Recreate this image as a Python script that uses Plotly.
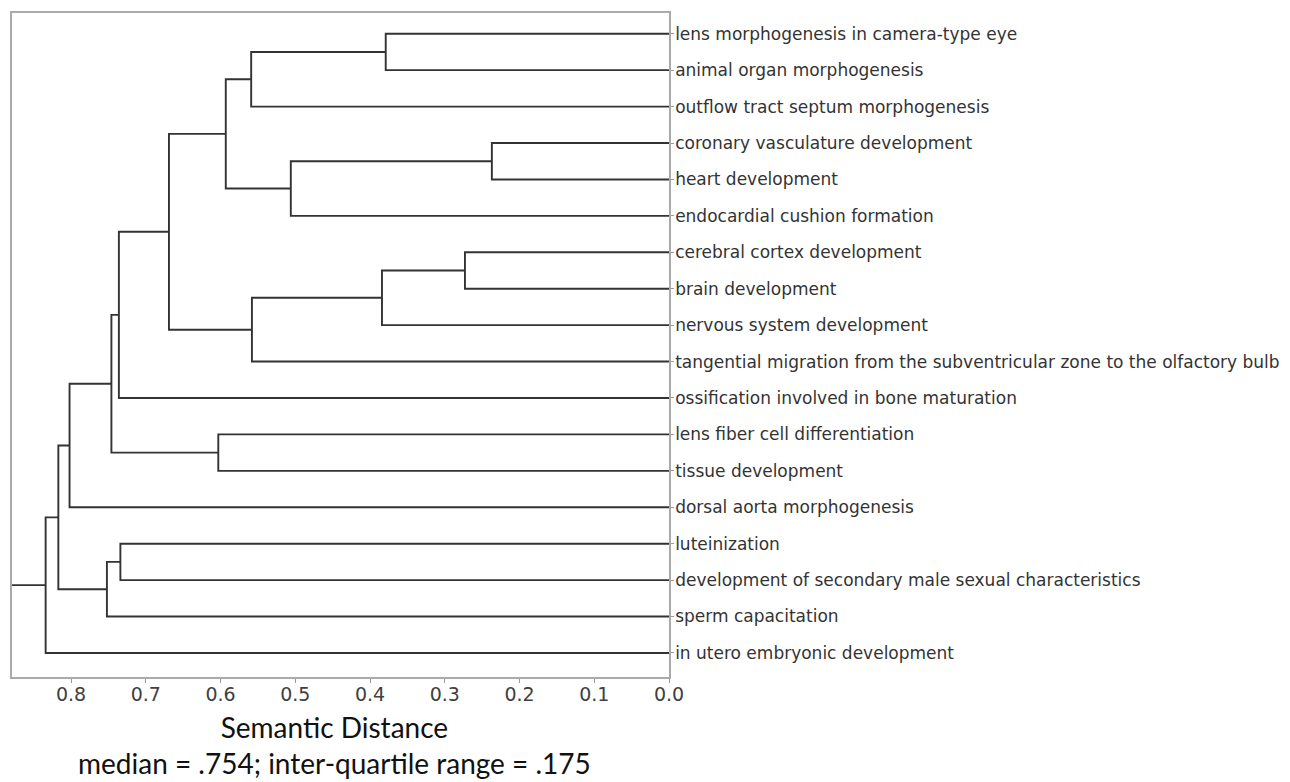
import plotly.graph_objects as go

# ---------------- data ----------------
leaf_labels = [
    "lens morphogenesis in camera-type eye",
    "animal organ morphogenesis",
    "outflow tract septum morphogenesis",
    "coronary vasculature development",
    "heart development",
    "endocardial cushion formation",
    "cerebral cortex development",
    "brain development",
    "nervous system development",
    "tangential migration from the subventricular zone to the olfactory bulb",
    "ossification involved in bone maturation",
    "lens fiber cell differentiation",
    "tissue development",
    "dorsal aorta morphogenesis",
    "luteinization",
    "development of secondary male sexual characteristics",
    "sperm capacitation",
    "in utero embryonic development",
]

# linkage: (child_a, child_b) ; ids < 18 are leaves, new nodes numbered 18, 19, ...
merge_left = [3, 6, 0, 19, 18, 21, 20, 24, 11, 25, 14, 27, 29, 28, 30, 32, 33]
merge_right = [4, 7, 1, 8, 5, 9, 2, 22, 12, 23, 15, 10, 26, 16, 13, 31, 17]
merge_height = [0.237, 0.273, 0.379, 0.384, 0.506, 0.558, 0.559, 0.593, 0.603,
                0.669, 0.734, 0.736, 0.746, 0.752, 0.802, 0.817, 0.834]

x_ticks = [0.0, 0.1, 0.2, 0.3, 0.4, 0.5, 0.6, 0.7, 0.8]
x_max = 0.879

xlabel_text = "Semantic Distance"
stats_text = "median = .754; inter-quartile range = .175"

# ---------------- build dendrogram segments ----------------
n = len(leaf_labels)
pos = {i: float(i) for i in range(n)}
height = {i: 0.0 for i in range(n)}
xs, ys = [], []
for k, (a, b, h) in enumerate(zip(merge_left, merge_right, merge_height)):
    node = n + k
    xs += [height[a], h, h, height[b], None]
    ys += [pos[a], pos[a], pos[b], pos[b], None]
    pos[node] = (pos[a] + pos[b]) / 2.0
    height[node] = h
root = n + len(merge_height) - 1
xs += [height[root], x_max, None]
ys += [pos[root], pos[root], None]

fig = go.Figure()
fig.add_trace(go.Scatter(
    x=xs, y=ys, mode="lines",
    line=dict(color="#333333", width=1.9),
    hoverinfo="skip", showlegend=False,
))

# page body has an 8px margin; figure spans page x 8..1290, y 8..782
fig.update_layout(
    width=1282, height=774,
    margin=dict(l=4, r=621, t=5, b=105, autoexpand=False),
    paper_bgcolor="white", plot_bgcolor="white",
    showlegend=False,
)
fig.update_xaxes(
    range=[x_max, 0.0],
    tickvals=x_ticks, ticktext=[f"{v:.1f}" for v in x_ticks],
    ticks="outside", ticklen=4, tickcolor="#999999", tickwidth=1,
    ticklabelstandoff=-5,
    tickfont=dict(family="DejaVu Sans", size=19, color="#404040"),
    showgrid=False, zeroline=False,
    showline=True, mirror=True, linecolor="#aaaaaa", linewidth=1.5,
)
fig.update_yaxes(
    range=[17.66, -0.569],
    tickvals=list(range(n)), ticktext=leaf_labels,
    side="right", ticks="outside", ticklen=3, tickcolor="#999999",
    ticklabelstandoff=-2,
    tickfont=dict(family="DejaVu Sans", size=17, color="#333333"),
    showgrid=False, zeroline=False,
    showline=True, mirror=True, linecolor="#aaaaaa", linewidth=1.5,
)

fig.add_annotation(
    text=xlabel_text + "<br>" + stats_text, xref="paper", yref="paper",
    x=0.4916, y=-0.158, xanchor="center", yanchor="bottom", align="center",
    showarrow=False, font=dict(family="Lato", size=28, color="#111111"),
)

fig.write_html("out.html")
